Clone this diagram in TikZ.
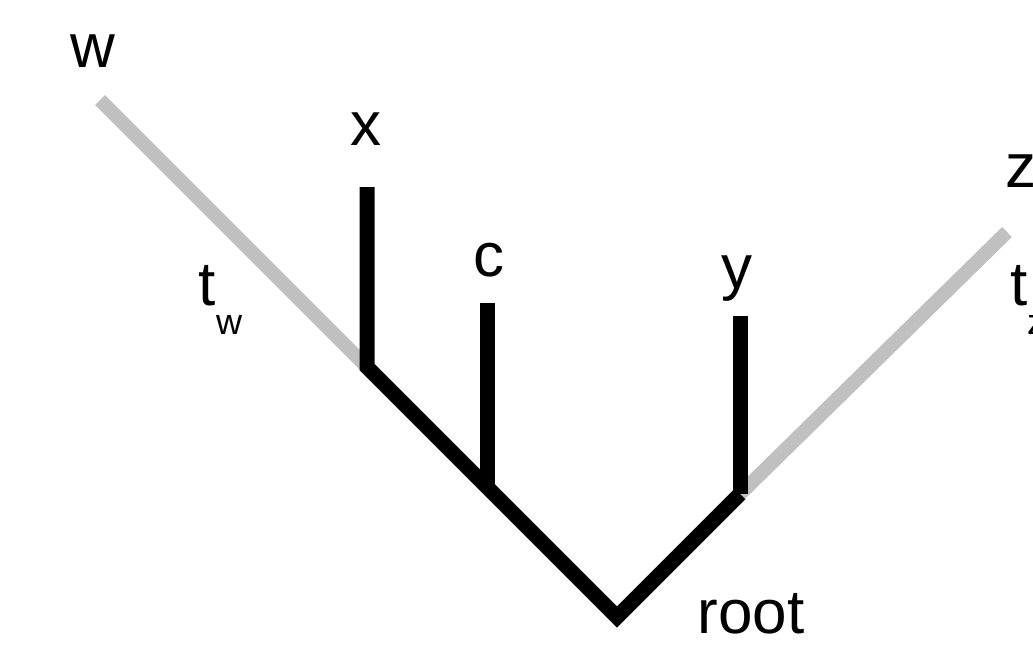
\documentclass[tikz,border=0pt]{standalone}
\usepackage{fontspec}
\setmainfont{Liberation Sans}
\definecolor{branchgrey}{RGB}{192,192,192}
\tikzset{
  greybranch/.style={draw=branchgrey, line width=14pt, line cap=butt},
  blackbranch/.style={draw=black, line width=15pt, line cap=butt, line join=miter},
  lab/.style={font=\fontsize{62}{62}\selectfont, anchor=base, inner sep=0pt},
  sublab/.style={font=\fontsize{36}{36}\selectfont, anchor=base, inner sep=0pt}
}
\begin{document}
\begin{tikzpicture}[x=1pt,y=-1pt]
\useasboundingbox (0,0) rectangle (1033,645);
\clip (0,0) rectangle (1033,645);
% coordinates
\coordinate (w) at (100,100);
\coordinate (xtop) at (367,187);
\coordinate (xj) at (367,367);
\coordinate (ctop) at (487,303);
\coordinate (cj) at (487,487);
\coordinate (root) at (617,617);
\coordinate (yj) at (740,494);
\coordinate (ytop) at (740,316);
\coordinate (z) at (1007,232);
% grey branches
\draw[greybranch] (w) -- (xj);
\draw[greybranch] (yj) -- (z);
% black branches
\draw[blackbranch] (xtop) -- (xj) -- (root) -- (yj);
\draw[blackbranch] (ctop) -- (cj);
\draw[blackbranch] (ytop) -- (yj);
% labels
\node[lab] (lw) at (93,67) {w};
\node[lab] (lx) at (366,145) {x};
\node[lab] (lc) at (489,276) {c};
\node[lab] (ly) at (737,288) {y};
\node[lab] (lz) at (1021,187) {z};
\node[lab] (lroot) at (751,633) {root};
\node[lab] (ltw) at (207,305) {t};
\node[sublab] (lsw) at (229,334) {w};
\node[lab] (ltz) at (1019,305) {t};
\node[sublab] (lsz) at (1036,334) {z};
\end{tikzpicture}
\end{document}
